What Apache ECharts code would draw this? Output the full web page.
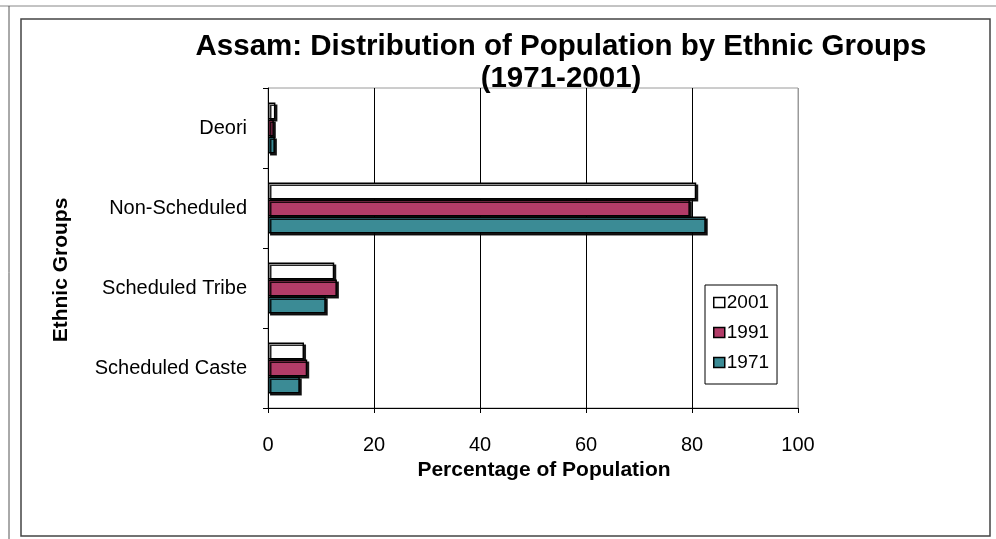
<!DOCTYPE html>
<html>
<head>
<meta charset="utf-8">
<script src="https://cdn.jsdelivr.net/npm/echarts@6/dist/echarts.min.js"></script>
<style>
  html, body { margin: 0; padding: 0; background: #fff; }
  #chart { width: 996px; height: 539px; }
</style>
</head>
<body>
<div id="chart"></div>
<script>
// Ethnic groups, listed bottom-up along the category axis
const groups = ['Scheduled Caste', 'Scheduled Tribe', 'Non-Scheduled', 'Deori'];
const years = ['2001', '1991', '1971'];

// Share of population (%) per group, same order as groups
const share2001 = [6.8, 12.5, 80.8, 1.4];
const share1991 = [7.4, 13.0, 79.6, 1.1];
const share1971 = [6.0, 10.9, 82.6, 1.3];

const xTicks = [0, 20, 40, 60, 80, 100];

const seriesData = [share2001, share1991, share1971];
const fills = ['#ffffff', '#b23c68', '#3b8b95'];
const FONT = 'Liberation Sans, Arial, sans-serif';

const chart = echarts.init(document.getElementById('chart'), null, { renderer: 'canvas' });

chart.setOption({
  backgroundColor: '#ffffff',
  animation: false,
  title: {
    text: 'Assam: Distribution of Population by Ethnic Groups\n(1971-2001)',
    left: 561,
    top: 31,
    padding: 0,
    textAlign: 'center',
    textStyle: {
      fontFamily: FONT,
      fontSize: 29.5,
      fontWeight: 'bold',
      color: '#000',
      lineHeight: 32
    }
  },
  legend: {
    data: years,
    orient: 'vertical',
    left: 705,
    top: 285,
    padding: [8, 8, 12, 8],
    itemGap: 11,
    itemWidth: 11,
    itemHeight: 10,
    borderColor: '#000',
    borderWidth: 1,
    icon: 'rect',
    textStyle: { fontFamily: FONT, fontSize: 19, color: '#000', padding: [0, 0, 0, -3] },
    itemStyle: { borderColor: '#000', borderWidth: 1.5 }
  },
  grid: {
    left: 268,
    right: 198,
    top: 88,
    bottom: 131,
    show: true,
    borderColor: '#9a9a9a',
    borderWidth: 1
  },
  xAxis: {
    type: 'value',
    min: xTicks[0],
    max: xTicks[xTicks.length - 1],
    interval: 20,
    name: 'Percentage of Population',
    nameLocation: 'middle',
    nameGap: 52,
    nameTextStyle: {
      fontFamily: FONT, fontSize: 21, fontWeight: 'bold', color: '#000',
      padding: [0, 0, 0, 22]
    },
    axisLine: { show: true, lineStyle: { color: '#000', width: 1 } },
    axisTick: { show: true, length: 5, lineStyle: { color: '#000' } },
    axisLabel: { fontFamily: FONT, fontSize: 20, color: '#000', margin: 27 },
    splitLine: {
      show: true,
      lineStyle: { color: ['#000', '#000', '#000', '#000', '#000', '#9a9a9a'], width: 1 }
    }
  },
  yAxis: {
    type: 'category',
    data: groups,
    axisLine: { show: true, lineStyle: { color: '#000', width: 1 } },
    axisTick: { show: true, length: 5, lineStyle: { color: '#000' } },
    axisLabel: { fontFamily: FONT, fontSize: 20, color: '#000', margin: 21 },
    splitLine: { show: false }
  },
  graphic: [
    // page edges
    { type: 'line', shape: { x1: 0, y1: 6, x2: 996, y2: 6 }, style: { stroke: '#888', lineWidth: 1 } },
    { type: 'line', shape: { x1: 9, y1: 6, x2: 9, y2: 539 }, style: { stroke: '#555', lineWidth: 1 } },
    // chart frame
    { type: 'rect', shape: { x: 21, y: 19, width: 969, height: 517 },
      style: { fill: 'none', stroke: '#444', lineWidth: 1.5 }, z: -1 },
    // vertical axis title
    { type: 'text', x: 61, y: 270, rotation: Math.PI / 2,
      style: { text: 'Ethnic Groups', fontFamily: FONT, fontSize: 21, fontWeight: 'bold',
               fill: '#000', align: 'center', verticalAlign: 'middle' } }
  ],
  series: years.map((y, i) => ({
    name: y,
    type: 'bar',
    data: seriesData[i],
    barWidth: 17,
    barGap: '0%',
    itemStyle: {
      color: fills[i],
      borderColor: '#000',
      borderWidth: 1.5,
      shadowColor: 'rgba(0,0,0,0.85)',
      shadowOffsetX: 2,
      shadowOffsetY: 2,
      shadowBlur: 0
    }
  }))
});
</script>
</body>
</html>
